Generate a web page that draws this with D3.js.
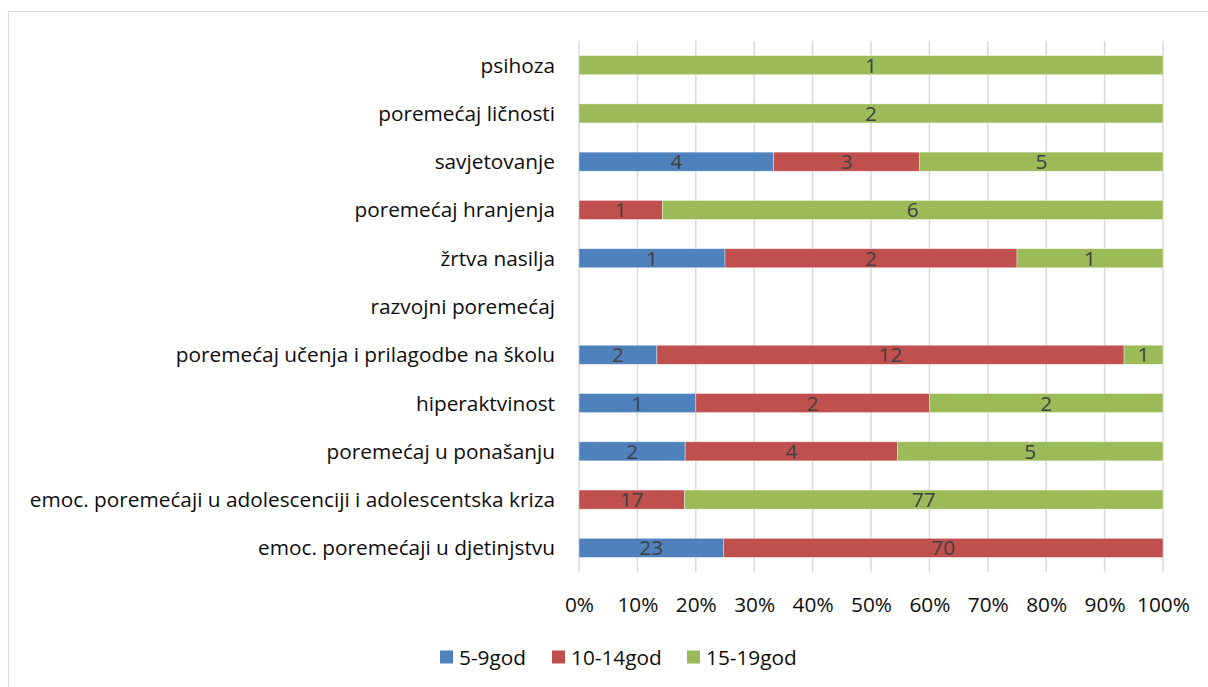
<!DOCTYPE html>
<html><head><meta charset="utf-8">
<script src="https://cdn.jsdelivr.net/npm/d3@7"></script>
<style>
html,body{margin:0;padding:0;background:#fff;}
text{font-family:"Open Sans", sans-serif;}
</style></head>
<body><svg id="chart" width="1208" height="687"></svg>
<script>
const categories = [
  "psihoza",
  "poremećaj ličnosti",
  "savjetovanje",
  "poremećaj hranjenja",
  "žrtva nasilja",
  "razvojni poremećaj",
  "poremećaj učenja i prilagodbe na školu",
  "hiperaktvinost",
  "poremećaj u ponašanju",
  "emoc. poremećaji u adolescenciji i adolescentska kriza",
  "emoc. poremećaji u djetinjstvu"
];
const seriesNames = ["5-9god", "10-14god", "15-19god"];
const s5_9   = [0, 0, 4, 0, 1, 0, 2, 1, 2, 0, 23];
const s10_14 = [0, 0, 3, 1, 2, 0, 12, 2, 4, 17, 70];
const s15_19 = [1, 2, 5, 6, 1, 0, 1, 2, 5, 77, 0];
const tickValues = [0, 0.1, 0.2, 0.3, 0.4, 0.5, 0.6, 0.7, 0.8, 0.9, 1.0];
const colors = ["#4f81bd", "#c0504d", "#9bbb59"];
const FONT = "'Open Sans', sans-serif";
const FS = 20.8;

const svg = d3.select("#chart");
svg.append("rect").attr("x", 8.5).attr("y", 11.5).attr("width", 1220).attr("height", 700)
  .attr("fill", "none").attr("stroke", "#d9d9d9").attr("stroke-width", 1.2);

const x = d3.scaleLinear().domain([0, 1]).range([579, 1163]);
const y = d3.scaleBand().domain(categories).range([41, 572]).paddingInner(0.605).paddingOuter(0.3025);

svg.append("g").selectAll("line").data(tickValues).join("line")
  .attr("x1", d => x(d)).attr("x2", d => x(d)).attr("y1", 41).attr("y2", 572)
  .attr("stroke", "#d9d9d9").attr("stroke-width", 1.5);

const rows = categories.map((c, i) => {
  const vals = [s5_9[i], s10_14[i], s15_19[i]];
  const tot = d3.sum(vals);
  let acc = 0;
  return vals.map((v, k) => {
    const x0 = tot ? acc / tot : 0; acc += v; const x1 = tot ? acc / tot : 0;
    return {cat: c, k, v, x0, x1};
  });
}).flat().filter(d => d.v > 0);

const g = svg.append("g");
g.selectAll("rect").data(rows).join("rect")
  .attr("x", d => x(d.x0)).attr("width", d => x(d.x1) - x(d.x0))
  .attr("y", d => y(d.cat)).attr("height", y.bandwidth())
  .attr("fill", d => colors[d.k]).attr("stroke", "#ffffff").attr("stroke-opacity", 0.5).attr("stroke-width", 0.75);

g.selectAll("text").data(rows).join("text")
  .attr("x", d => (x(d.x0) + x(d.x1)) / 2).attr("y", d => y(d.cat) + y.bandwidth() / 2)
  .attr("dy", "0.36em").attr("text-anchor", "middle")
  .attr("font-size", FS).attr("fill", "#404040").text(d => d.v);

svg.append("g").selectAll("text").data(categories).join("text")
  .attr("x", 555).attr("y", d => y(d) + y.bandwidth() / 2).attr("dy", "0.36em")
  .attr("text-anchor", "end").attr("font-size", FS).attr("fill", "#0d0d0d").text(d => d);

const xAxis = d3.axisBottom(x).tickValues(tickValues).tickFormat(d3.format(".0%")).tickSize(0).tickPadding(0);
const ax = svg.append("g").attr("transform", "translate(0,604)").call(xAxis);
ax.select(".domain").remove();
ax.selectAll("text").attr("font-size", FS).attr("fill", "#0d0d0d").attr("dy", "0.36em")
  .attr("font-family", FONT);

const legendX = [440, 552, 687];
const lg = svg.append("g").selectAll("g").data(seriesNames).join("g")
  .attr("transform", (d, i) => `translate(${legendX[i]},657)`);
lg.append("rect").attr("x", 0).attr("y", -6.5).attr("width", 13).attr("height", 13).attr("fill", (d, i) => colors[i]);
lg.append("text").attr("x", 19).attr("y", 0).attr("dy", "0.36em").attr("font-size", FS)
  .attr("fill", "#0d0d0d").text(d => d);
</script></body></html>
